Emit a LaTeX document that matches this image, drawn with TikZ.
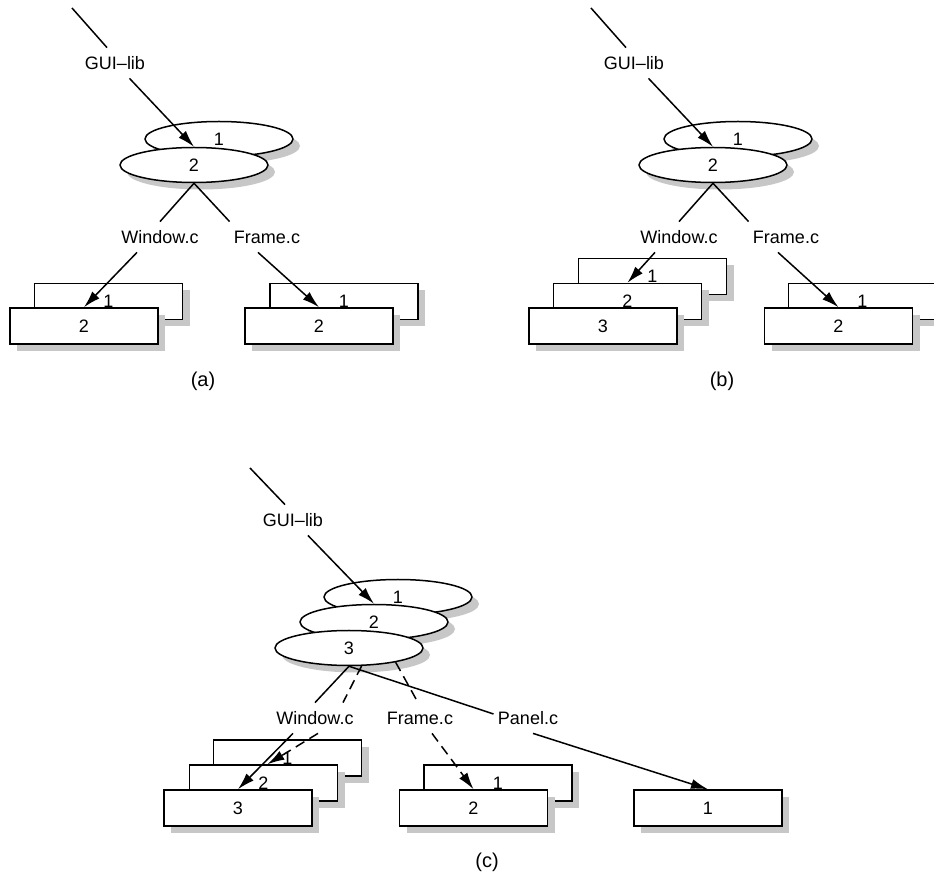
\documentclass[tikz,border=0pt]{standalone}
\usepackage{fontspec}
\setmainfont{Liberation Sans}
\usetikzlibrary{arrows.meta,shapes.geometric,shadows}

\begin{document}
\begin{tikzpicture}[x=0.5pt,y=-0.5pt,
  every node/.style={font=\fontsize{9}{11}\selectfont},
  fbox/.style={draw,fill=white,line width=0.75pt,minimum width=74pt,minimum height=18pt,inner sep=0pt,
    drop shadow={shadow xshift=3.5pt,shadow yshift=-3.5pt,fill=black!22,opacity=1}},
  vers/.style={fbox,ellipse,minimum height=17.5pt},
  lbl/.style={inner xsep=2pt,inner ysep=0pt,minimum height=15pt},
  wire/.style={line width=0.75pt},
  edge/.style={wire,-{Latex[length=8.5pt,width=5pt]}},
  dsh/.style={dash pattern=on 5pt off 3pt},
  tag/.style={font=\fontsize{10}{12}\selectfont}
]
\useasboundingbox (0,0) rectangle (934,877);

% (a)
\coordinate (a-top) at (72,8);
\node[lbl] (a-lib) at (115,63) {GUI–lib};
\node[vers] (a-e1) at (219,139) {1};
\node[vers] (a-e2) at (194,165) {2};
\node[lbl] (a-win) at (160,237) {Window.c};
\node[lbl] (a-frm) at (267,237) {Frame.c};
\node[fbox] (a-w1) at (108.5,301.5) {1};
\node[fbox] (a-w2) at (84,326) {2};
\node[fbox] (a-f1) at (344,301.5) {1};
\node[fbox] (a-f2) at (319,326) {2};
\node[tag] (a-tag) at (203,381) {(a)};
\draw[wire] (a-top) -- ([xshift=-4pt]a-lib.north);
\draw[edge] (a-lib) -- (a-e2.north);
\draw[wire] (a-e2.south) -- (a-win.north);
\draw[wire] (a-e2.south) -- (a-frm.north west);
\draw[edge] ([xshift=-11.5pt]a-win.south) -- (a-w2.north);
\draw[edge] ([xshift=-4.5pt]a-frm.south) -- (a-f2.north);

% (b)
\coordinate (b-top) at (591,8);
\node[lbl] (b-lib) at (634,63) {GUI–lib};
\node[vers] (b-e1) at (738,139) {1};
\node[vers] (b-e2) at (713,165) {2};
\node[lbl] (b-win) at (679,237) {Window.c};
\node[lbl] (b-frm) at (786,237) {Frame.c};
\node[fbox] (b-w1) at (652.5,276.5) {1};
\node[fbox] (b-w2) at (627.5,301.5) {2};
\node[fbox] (b-w3) at (603,326) {3};
\node[fbox] (b-f1) at (862.5,301.5) {1};
\node[fbox] (b-f2) at (838.5,326) {2};
\node[tag] (b-tag) at (722,381) {(b)};
\draw[wire] (b-top) -- ([xshift=-4pt]b-lib.north);
\draw[edge] (b-lib) -- (b-e2.north);
\draw[wire] (b-e2.south) -- (b-win.north);
\draw[wire] (b-e2.south) -- (b-frm.north west);
\draw[edge] ([xshift=-12pt]b-win.south) -- (b-w2.north);
\draw[edge] ([xshift=-4pt]b-frm.south) -- (b-f2.north);

% (c)
\coordinate (c-top) at (250,468);
\node[lbl] (c-lib) at (293,520) {GUI–lib};
\node[vers] (c-e1) at (398,597) {1};
\node[vers] (c-e2) at (374,622) {2};
\node[vers] (c-e3) at (349,648) {3};
\node[lbl] (c-win) at (315,718) {Window.c};
\node[lbl] (c-frm) at (420,718) {Frame.c};
\node[lbl] (c-pnl) at (528,718) {Panel.c};
\node[fbox] (c-w1) at (287.5,758) {1};
\node[fbox] (c-w2) at (263.5,783) {2};
\node[fbox] (c-w3) at (238,808) {3};
\node[fbox] (c-f1) at (498,783) {1};
\node[fbox] (c-f2) at (473.5,808) {2};
\node[fbox] (c-p1) at (708,808) {1};
\node[tag] (c-tag) at (487,862) {(c)};
\draw[wire] (c-top) -- ([xshift=-4pt]c-lib.north);
\draw[edge] (c-lib) -- (c-e2.north);
\draw[wire] (c-e3.south) -- (c-win.north);
\draw[edge] ([xshift=-11pt]c-win.south) -- (c-w3.north);
\draw[wire,dsh] (c-e3.-55) -- ([xshift=14pt]c-win.north);
\draw[edge,dsh] ([xshift=1.5pt]c-win.south) -- ([xshift=2pt]c-w2.north);
\draw[wire,dsh] (c-e3.-17) -- ([xshift=-1pt]c-frm.north);
\draw[edge,dsh] ([xshift=6pt]c-frm.south) -- (c-f2.north);
\draw[wire] (c-e3.south) -- ([yshift=2pt]c-pnl.west);
\draw[edge] ([xshift=2.5pt]c-pnl.south) -- (c-p1.north);
\end{tikzpicture}
\end{document}
